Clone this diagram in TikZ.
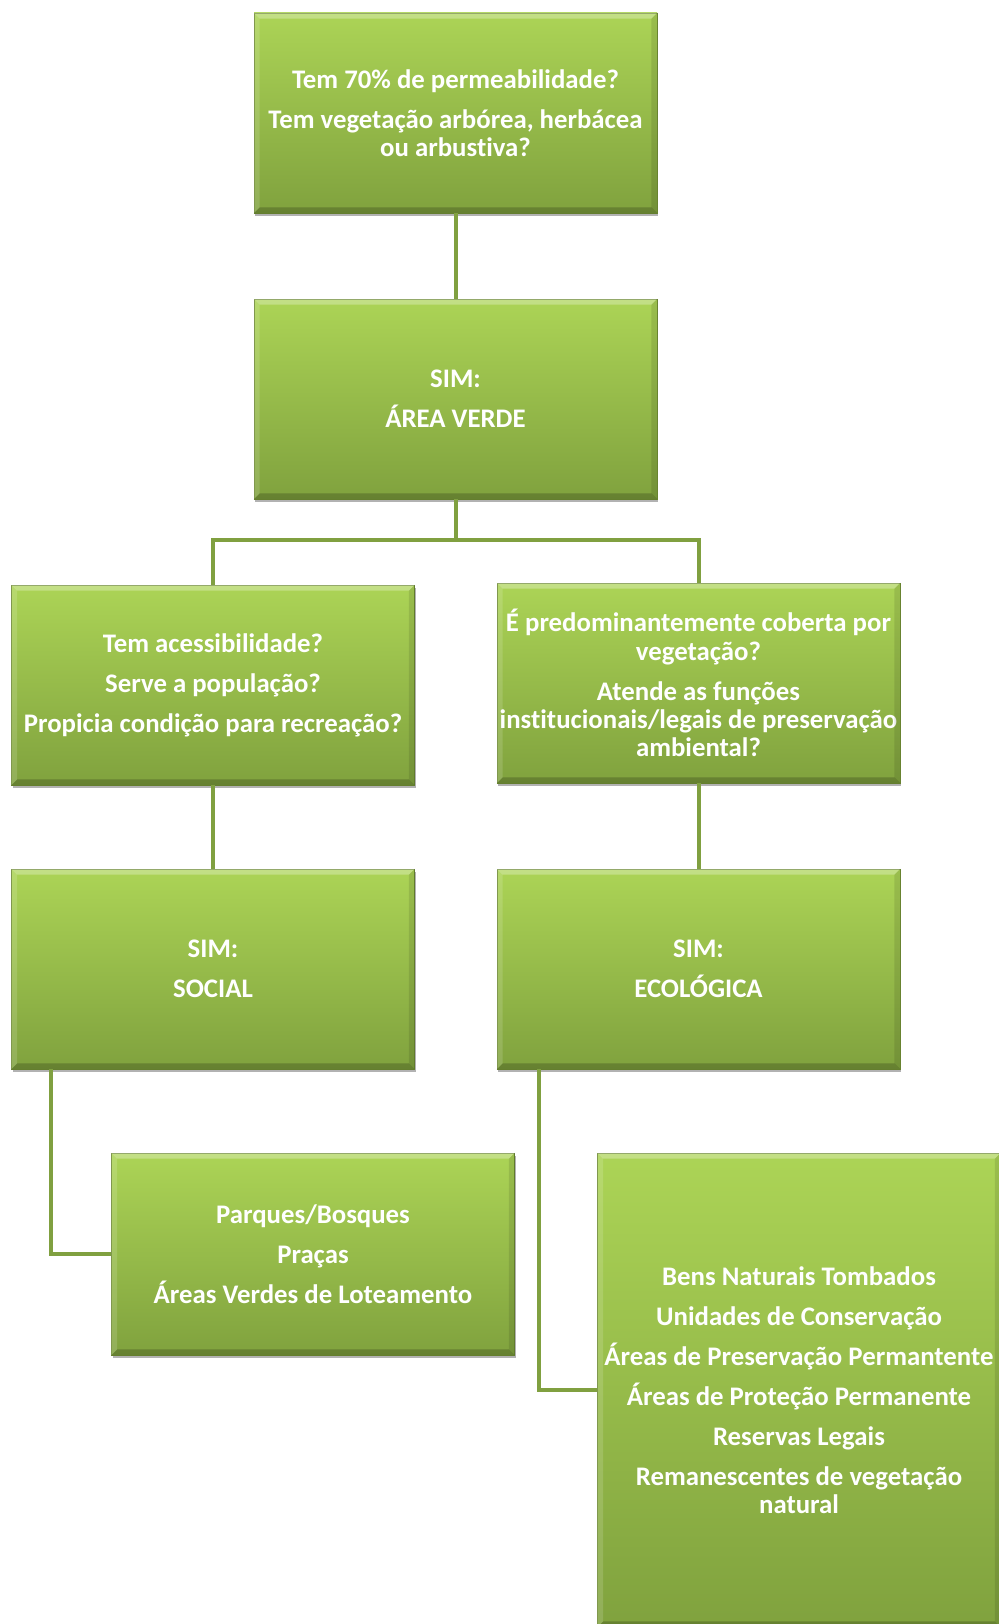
\documentclass[tikz,border=0pt]{standalone}
\usepackage{fontspec}
\setmainfont[Ligatures=NoCommon]{Carlito}
\usetikzlibrary{shadows,calc}
\definecolor{gtop}{RGB}{172,212,86}
\definecolor{gbot}{RGB}{128,162,62}
\definecolor{gline}{RGB}{128,160,64}
\definecolor{gedge}{RGB}{108,136,50}
\tikzset{
  box/.style={rectangle, minimum width=403pt, minimum height=200pt,
    top color=gtop, bottom color=gbot, draw=gedge, line width=0.6pt,
    text=white, font=\bfseries\fontsize{26.8}{28.3}\selectfont, align=center, inner sep=0pt,
    drop shadow={shadow xshift=1pt, shadow yshift=-3pt, opacity=0.3, fill=black}},
  conn/.style={draw=gline, line width=4pt, line join=miter}
}
\newcommand\bevelbox[1]{%
  \fill[white,opacity=0.28] (#1.north west) -- (#1.north east) -- ([xshift=-6pt,yshift=-6pt]#1.north east) -- ([xshift=6pt,yshift=-6pt]#1.north west) -- cycle;
  \fill[white,opacity=0.14] (#1.north west) -- ([xshift=6pt,yshift=-6pt]#1.north west) -- ([xshift=6pt,yshift=6pt]#1.south west) -- (#1.south west) -- cycle;
  \fill[black,opacity=0.10] (#1.north east) -- ([xshift=-6pt,yshift=-6pt]#1.north east) -- ([xshift=-6pt,yshift=6pt]#1.south east) -- (#1.south east) -- cycle;
  \fill[black,opacity=0.20] (#1.south west) -- ([xshift=6pt,yshift=6pt]#1.south west) -- ([xshift=-6pt,yshift=6pt]#1.south east) -- (#1.south east) -- cycle;
}
\def\gap{\\[11.7pt]}
\begin{document}
\begin{tikzpicture}[x=1pt,y=-1pt]
\useasboundingbox[fill=white] (0,0) rectangle (998,1624);
\node[box] (b1) at (455.5,113) {Tem 70\% de permeabilidade?\gap Tem vegetação arbórea, herbácea\\ou arbustiva?};
\node[box] (b2) at (455.5,399) {SIM:\gap ÁREA VERDE};
\node[box] (b3) at (213,685) {Tem acessibilidade?\gap Serve a população?\gap Propicia condição para recreação?};
\node[box] (b4) at (698.5,683) {É predominantemente coberta por\\vegetação?\gap Atende as funções\\institucionais/legais de preservação\\ambiental?};
\node[box] (b5) at (213,969) {SIM:\gap SOCIAL};
\node[box] (b6) at (698.5,969) {SIM:\gap ECOLÓGICA};
\node[box, minimum height=202pt] (b7) at (313,1254) {Parques/Bosques\gap Praças\gap Áreas Verdes de Loteamento};
\node[box, minimum height=474pt] (b8) at (799,1390) {Bens Naturais Tombados\gap Unidades de Conservação\gap Áreas de Preservação Permantente\gap Áreas de Proteção Permanente\gap Reservas Legais\gap Remanescentes de vegetação\\natural};
\foreach \n in {b1,b2,b3,b4,b5,b6,b7,b8} {\bevelbox{\n}}
\coordinate (j) at (455.5,540);
\draw[conn] (b1.south) -- (b2.north);
\draw[conn] (b2.south) -- (j) -| (b3.north);
\draw[conn] (j) -| (b4.north);
\draw[conn] (b3.south) -- (b5.north);
\draw[conn] (b4.south) -- (b6.north);
\draw[conn] ([xshift=40pt]b5.south west) |- (b7.west);
\draw[conn] ([xshift=42pt]b6.south west) |- (b8.west);
\end{tikzpicture}
\end{document}
